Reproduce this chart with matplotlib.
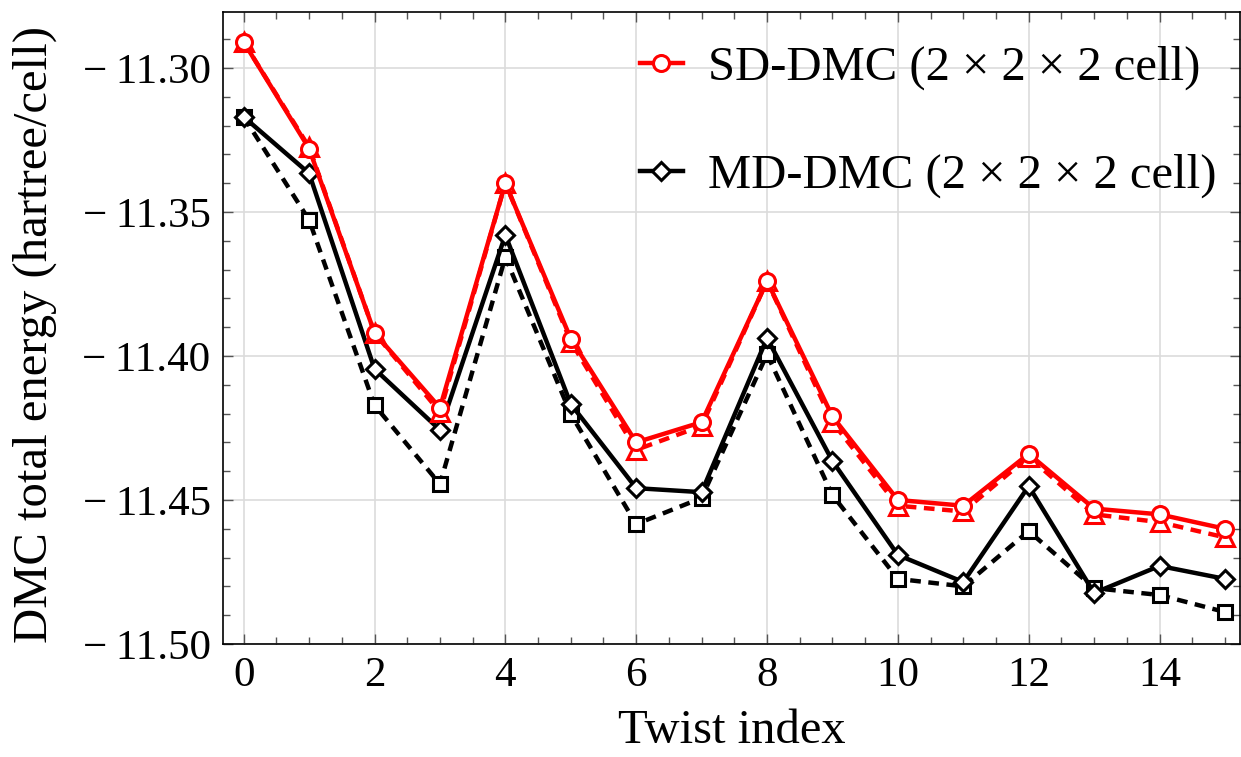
import matplotlib
matplotlib.use("Agg")
import matplotlib.pyplot as plt
from matplotlib.ticker import MultipleLocator, FuncFormatter

plt.rcParams["font.family"] = ["Liberation Serif", "DejaVu Serif"]

twist = list(range(16))

# SD-DMC, solid (circles) and dashed (triangles)
sd_solid = [-11.291, -11.328, -11.392, -11.418, -11.340, -11.394, -11.430, -11.423,
            -11.374, -11.421, -11.450, -11.452, -11.434, -11.453, -11.455, -11.460]
sd_dashed = [-11.291, -11.3275, -11.392, -11.4195, -11.340, -11.395, -11.4326, -11.4243,
             -11.374, -11.423, -11.452, -11.454, -11.435, -11.455, -11.4577, -11.463]

# MD-DMC, solid (diamonds) and dashed (squares)
md_solid = [-11.317, -11.3366, -11.4045, -11.4257, -11.358, -11.4167, -11.4459, -11.4473,
            -11.3938, -11.4365, -11.4691, -11.4785, -11.4452, -11.4823, -11.4729, -11.4774]
md_dashed = [-11.317, -11.3528, -11.4171, -11.4445, -11.3657, -11.4202, -11.4584, -11.4493,
             -11.3994, -11.4483, -11.4774, -11.480, -11.4608, -11.4806, -11.483, -11.4889]

labels = ["SD-DMC (2 × 2 × 2 cell)", "MD-DMC (2 × 2 × 2 cell)"]

fig = plt.figure(figsize=(12.41, 7.57), dpi=100)
ax = fig.add_axes([0.1797, 0.1493, 0.8195, 0.8348])

lw = 3.2
ms = 11.5
mew = 2.2
dash = (2.4, 1.7)

ax.plot(twist, md_dashed, color="black", lw=lw, dashes=dash, marker="s",
        ms=ms * 0.92, mfc="white", mec="black", mew=mew, zorder=3)
ax.plot(twist, md_solid, color="black", lw=lw, marker="D", ms=ms * 0.82,
        mfc="white", mec="black", mew=mew, zorder=4, label=labels[1])
ax.plot(twist, sd_dashed, color="red", lw=lw, dashes=dash, marker="^",
        ms=ms * 1.1, mfc="white", mec="red", mew=mew, zorder=5)
ax.plot(twist, sd_solid, color="red", lw=lw, marker="o", ms=ms,
        mfc="white", mec="red", mew=mew, zorder=6, label=labels[0])

ax.set_xlim(-0.316, 15.23)
ax.set_ylim(-11.50, -11.2806)

ax.xaxis.set_major_locator(MultipleLocator(2))
ax.xaxis.set_minor_locator(MultipleLocator(0.5))
ax.yaxis.set_major_locator(MultipleLocator(0.05))
ax.yaxis.set_minor_locator(MultipleLocator(0.01))
ax.yaxis.set_major_formatter(FuncFormatter(lambda v, p: f"{v:.2f}".replace("-", "\u2212\u2009")))

ax.grid(True, which="major", color="#dcdcdc", lw=1.2)
ax.set_axisbelow(True)

ax.tick_params(which="both", direction="in", top=True, right=True,
               color="#555555", labelsize=31, pad=9)
ax.tick_params(which="major", length=7, width=1)
ax.tick_params(which="minor", length=5, width=1)
for s in ax.spines.values():
    s.set_linewidth(1.2)

ax.set_xlabel("Twist index", fontsize=35, labelpad=10)
ax.set_ylabel("DMC total energy (hartree/cell)", fontsize=35)
ax.yaxis.set_label_coords(-0.163, 0.49)

h, l = ax.get_legend_handles_labels()
ax.legend(h[::-1], l[::-1], loc="upper right", bbox_to_anchor=(1.01, 1.0),
          frameon=False, fontsize=35, handlelength=0.9, handletextpad=0.5,
          labelspacing=1.3, borderaxespad=0.3)

fig.savefig("out.png", dpi=100)
